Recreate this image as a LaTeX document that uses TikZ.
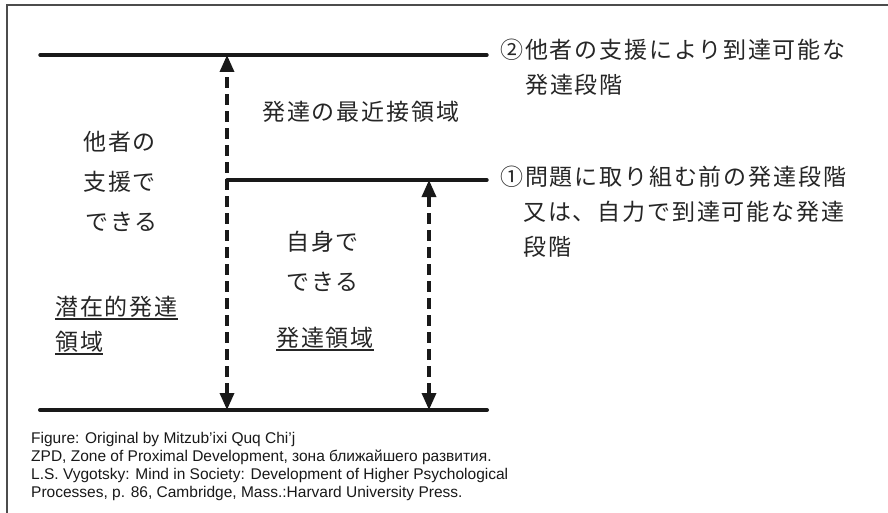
\documentclass[tikz,border=0pt]{standalone}
\usepackage{fontspec}
\setmainfont{Liberation Sans}
\newfontfamily\jpfont[LetterSpace=8]{Noto Sans CJK JP}
\usetikzlibrary{arrows.meta}
\begin{document}
\begin{tikzpicture}[x=1pt,y=1pt,
  level/.style={line width=3.4pt, line cap=round, black!90},
  span/.style={line width=3.4pt, black!90, dash pattern=on 11pt off 6pt,
    {Triangle[width=14pt,length=17pt]}-{Triangle[width=14pt,length=17pt]}},
  jtext/.style={font=\jpfont\fontsize{23pt}{27pt}\selectfont, inner sep=0pt, anchor=west, text=black!85},
  captext/.style={font=\fontsize{15.5pt}{18pt}\selectfont, inner sep=0pt, anchor=base west, text=black!90},
  uline/.style={line width=1.8pt, black!85},
  frame/.style={line width=1.6pt, black!70}]
\useasboundingbox (0,0) rectangle (888,-513);
\fill[white] (0,0) rectangle (888,-513);
% frame
\draw[frame] (7,-513) -- (7,-5) -- (888,-5);
% levels
\coordinate (tl) at (40,-55);  \coordinate (tr) at (487,-55);
\coordinate (ml) at (227,-180); \coordinate (mr) at (487,-180);
\coordinate (bl) at (40,-410); \coordinate (br) at (487,-410);
\coordinate (a1t) at (227,-55); \coordinate (a1b) at (227,-410);
\coordinate (a2t) at (429,-180); \coordinate (a2b) at (429,-410);
\draw[level] (tl) -- (tr);
\draw[level] (ml) -- (mr);
\draw[level, line width=4pt] (bl) -- (br);
\draw[span] (a1b) -- (a1t);
\draw[span] (a2b) -- (a2t);
% right texts
\node[jtext] (r2a) at (500,-50) {②他者の支援により到達可能な};
\node[jtext] (r2b) at (525,-85) {発達段階};
\node[jtext] (r1a) at (500,-177) {①問題に取り組む前の発達段階};
\node[jtext] (r1b) at (523,-212) {又は、自力で到達可能な発達};
\node[jtext] (r1c) at (523,-247) {段階};
% middle
\node[jtext] (zpd) at (262,-112) {発達の最近接領域};
\node[jtext] (s1) at (286,-242) {自身で};
\node[jtext] (s2) at (286,-282) {できる};
\node[jtext] (s3) at (276,-338) {発達領域};
% left
\node[jtext] (o1) at (83,-142) {他者の};
\node[jtext] (o2) at (83,-182) {支援で};
\node[jtext] (o3) at (85,-222) {できる};
\node[jtext] (p1) at (55,-307) {潜在的発達};
\node[jtext] (p2) at (55,-342) {領域};
% underlines
\draw[uline] ([yshift=-1.5pt]p1.south west) -- ([yshift=-1.5pt]p1.south east);
\draw[uline] ([yshift=-1.5pt]p2.south west) -- ([yshift=-1.5pt]p2.south east);
\draw[uline] ([yshift=-1.5pt]s3.south west) -- ([yshift=-1.5pt]s3.south east);
% caption
\node[captext] (c1) at (31,-443) {Figure: Original by Mitzub'ixi Quq Chi'j};
\node[captext] (c2) at (31,-461) {ZPD, Zone of Proximal Development, зона ближайшего развития.};
\node[captext] (c3) at (31,-479) {L.S. Vygotsky: Mind in Society: Development of Higher Psychological};
\node[captext] (c4) at (31,-497) {Processes, p. 86, Cambridge, Mass.:Harvard University Press.};
\end{tikzpicture}
\end{document}
